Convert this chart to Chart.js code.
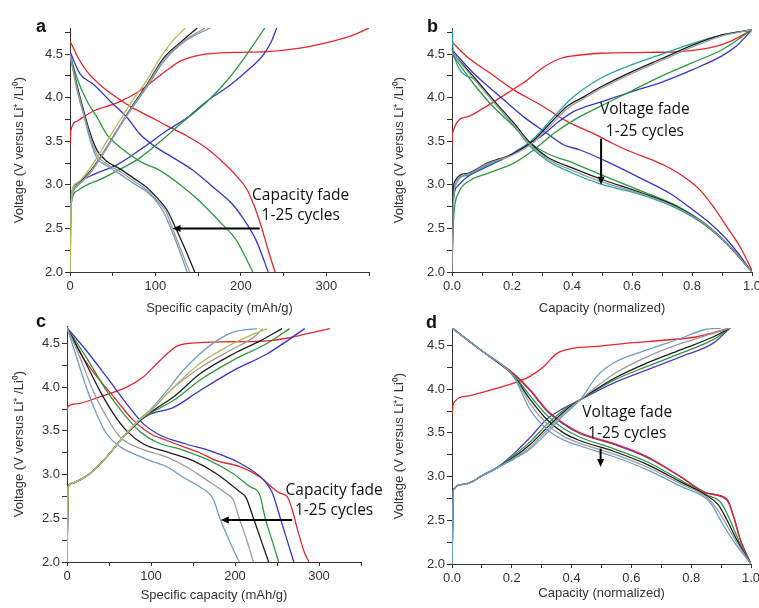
<!DOCTYPE html>
<html lang="en">
<head>
<meta charset="UTF-8">
<title>Voltage fade / capacity fade</title>
<style>
  body { margin: 0; background: #fff; }
  #wrap { position: relative; width: 759px; height: 608px; overflow: hidden; }
  canvas { position: absolute; }
</style>
</head>
<body>
<div id="wrap">
  <canvas id="chartA" width="379" height="318" style="left:0;top:0"></canvas>
  <canvas id="chartB" width="379" height="318" style="left:380px;top:0"></canvas>
  <canvas id="chartC" width="388" height="308" style="left:0;top:300px"></canvas>
  <canvas id="chartD" width="379" height="308" style="left:380px;top:300px"></canvas>
</div>
<script src="https://cdn.jsdelivr.net/npm/chart.js"></script>
<script>
// ---- panel a : specific capacity (mAh/g) vs voltage ----
const aRedChg = [[0,3.45],[1,3.62],[8,3.73],[28,3.85],[55,3.94],[82,4.08],[102,4.23],[117,4.34],[129,4.42],[152,4.49],[191,4.52],[230,4.53],[269,4.57],[308,4.65],[332,4.72],[350,4.8]];
const aRedDis = [[0,4.65],[10,4.45],[20,4.3],[35,4.15],[55,4.0],[74,3.88],[94,3.78],[113,3.68],[137,3.56],[160,3.42],[180,3.25],[195,3.1],[207,2.95],[216,2.75],[224,2.52],[232,2.25],[240,2.0]];
const aBlueChg = [[0,2.0],[1,2.75],[4,2.97],[12,3.04],[28,3.12],[55,3.23],[86,3.43],[113,3.62],[137,3.77],[160,3.96],[188,4.15],[211,4.34],[227,4.5],[236,4.65],[242,4.8]];
const aBlueDis = [[0,4.53],[12,4.27],[28,4.15],[47,3.96],[67,3.77],[82,3.58],[98,3.45],[121,3.31],[145,3.16],[168,2.97],[190,2.78],[205,2.58],[218,2.36],[232,2.0]];
const aGreenChg = [[0,2.0],[0.5,2.5],[2,2.81],[8,2.93],[20,3.0],[35,3.06],[55,3.16],[82,3.31],[106,3.5],[133,3.73],[160,3.95],[184,4.2],[205,4.47],[228,4.8]];
const aGreenDis = [[0,4.5],[8,4.23],[20,3.96],[32,3.77],[43,3.58],[59,3.43],[82,3.27],[106,3.16],[129,3.0],[152,2.81],[175,2.58],[195,2.36],[214,2.0]];
const aBlackChg = [[0,2.0],[0.5,2.6],[2,2.89],[8,3.0],[24,3.16],[43,3.43],[59,3.69],[74,3.92],[90,4.15],[110,4.46],[130,4.64],[149,4.8]];
const aBlackDis = [[0,4.5],[8,4.15],[16,3.85],[24,3.58],[32,3.39],[43,3.27],[59,3.18],[74,3.08],[90,2.97],[102,2.85],[113,2.72],[123,2.52],[134,2.28],[146,2.0]];
const aGrayChg = [[0,2.0],[2,2.87],[8,3.0],[24,3.15],[43,3.43],[59,3.69],[74,3.91],[90,4.14],[110,4.44],[132,4.64],[158,4.8]];
const aGrayDis = [[0,4.5],[8,4.12],[16,3.82],[24,3.54],[32,3.34],[43,3.24],[59,3.15],[74,3.05],[90,2.94],[102,2.82],[112,2.7],[120,2.5],[130,2.25],[140,2.0]];
const aSteelChg = [[0,2.0],[0.5,2.55],[2,2.85],[8,2.98],[24,3.14],[43,3.42],[59,3.68],[74,3.9],[90,4.12],[110,4.42],[135,4.65],[164,4.8]];
const aSteelDis = [[0,4.5],[8,4.1],[16,3.8],[24,3.5],[32,3.3],[43,3.22],[59,3.12],[74,3.02],[90,2.92],[102,2.8],[110,2.68],[118,2.5],[128,2.25],[137,2.0]];
const aOliveChg = [[0,2.0],[2,2.9],[8,3.02],[24,3.2],[43,3.5],[59,3.75],[74,3.98],[90,4.2],[105,4.45],[120,4.65],[135,4.8]];

// ---- panel b : normalized capacity ----
const bRedChg = [[0,3.44],[0.002,3.6],[0.05,3.78],[0.105,3.88],[0.183,4.05],[0.25,4.2],[0.305,4.35],[0.361,4.45],[0.428,4.49],[0.5,4.51],[0.65,4.52],[0.76,4.53],[0.87,4.58],[0.93,4.65],[1.0,4.78]];
const bRedDis = [[0,4.64],[0.05,4.47],[0.128,4.28],[0.206,4.09],[0.294,3.92],[0.377,3.74],[0.47,3.59],[0.527,3.49],[0.582,3.4],[0.671,3.28],[0.727,3.19],[0.782,3.07],[0.827,2.94],[0.871,2.75],[0.916,2.52],[0.96,2.29],[1.0,2.02]];
const bBlueChg = [[0,2.0],[0.003,2.75],[0.017,2.98],[0.05,3.09],[0.105,3.19],[0.183,3.32],[0.239,3.44],[0.294,3.55],[0.35,3.71],[0.405,3.84],[0.494,3.95],[0.6,4.07],[0.7,4.18],[0.8,4.32],[0.9,4.48],[0.95,4.6],[1.0,4.78]];
const bBlueDis = [[0,4.55],[0.072,4.28],[0.161,4.01],[0.239,3.78],[0.317,3.59],[0.372,3.46],[0.427,3.4],[0.527,3.25],[0.638,3.06],[0.727,2.9],[0.804,2.71],[0.86,2.56],[0.927,2.33],[1.0,2.0]];
const bGreenChg = [[0,2.0],[0.005,2.6],[0.021,2.9],[0.06,3.05],[0.117,3.13],[0.206,3.25],[0.272,3.4],[0.339,3.59],[0.405,3.74],[0.494,3.9],[0.6,4.08],[0.7,4.25],[0.8,4.4],[0.9,4.55],[1.0,4.78]];
const bGreenDis = [[0,4.5],[0.072,4.16],[0.128,3.93],[0.206,3.67],[0.261,3.48],[0.317,3.36],[0.405,3.25],[0.494,3.12],[0.638,2.92],[0.749,2.76],[0.838,2.57],[0.916,2.33],[1.0,2.0]];
const bBlackChg = [[0,2.0],[0.003,2.7],[0.007,3.02],[0.05,3.13],[0.117,3.25],[0.206,3.36],[0.272,3.51],[0.328,3.71],[0.383,3.9],[0.439,4.01],[0.494,4.12],[0.6,4.3],[0.7,4.45],[0.8,4.6],[0.9,4.72],[1.0,4.78]];
const bBlackDis = [[0,4.52],[0.072,4.24],[0.139,3.97],[0.206,3.71],[0.261,3.48],[0.317,3.32],[0.405,3.19],[0.494,3.07],[0.638,2.9],[0.749,2.75],[0.838,2.56],[0.916,2.33],[1.0,2.0]];
const bGrayChg = [[0,2.0],[0.004,2.7],[0.01,3.0],[0.05,3.12],[0.117,3.24],[0.206,3.35],[0.272,3.49],[0.328,3.68],[0.383,3.87],[0.439,3.99],[0.494,4.1],[0.6,4.28],[0.7,4.43],[0.8,4.58],[0.9,4.71],[1.0,4.78]];
const bGrayDis = [[0,4.52],[0.072,4.22],[0.139,3.95],[0.206,3.69],[0.261,3.46],[0.317,3.3],[0.405,3.16],[0.494,3.04],[0.638,2.89],[0.749,2.74],[0.838,2.56],[0.916,2.33],[1.0,2.0]];
const bTealChg = [[0,2.0],[0.003,2.65],[0.01,2.98],[0.05,3.11],[0.117,3.23],[0.206,3.36],[0.272,3.53],[0.339,3.78],[0.405,4.01],[0.494,4.22],[0.6,4.38],[0.7,4.5],[0.8,4.62],[0.9,4.72],[1.0,4.78]];
const bTealDis = [[0,4.78],[0.005,4.5],[0.072,4.22],[0.139,3.95],[0.206,3.68],[0.261,3.44],[0.317,3.28],[0.405,3.13],[0.494,3.01],[0.638,2.88],[0.749,2.73],[0.838,2.55],[0.916,2.32],[1.0,2.0]];

// ---- panel c : specific capacity, second material ----
const cRedChg = [[0,3.7],[1,3.78],[11.5,3.81],[39,3.89],[71,4.0],[91,4.12],[107,4.27],[119,4.38],[131,4.47],[158,4.51],[198,4.52],[238,4.53],[261,4.56],[285,4.61],[313,4.67]];
const cRedDis = [[0,4.68],[19,4.34],[39,4.08],[59,3.85],[79,3.62],[99,3.47],[119,3.39],[138,3.32],[158,3.25],[178,3.16],[206,3.09],[230,2.97],[253,2.79],[262,2.75],[268,2.6],[275,2.35],[283,2.1],[288,2.0]];
const cBlueChg = [[0,2.0],[1.5,2.86],[5.6,2.9],[15.5,2.94],[27,3.01],[47,3.2],[67,3.43],[87,3.62],[99,3.69],[127,3.77],[158,3.96],[198,4.19],[238,4.38],[265,4.55],[283,4.67]];
const cBlueDis = [[0,4.68],[23,4.42],[47,4.12],[71,3.81],[91,3.58],[111,3.45],[142,3.35],[174,3.26],[206,3.13],[234,2.94],[244,2.8],[254,2.5],[262,2.25],[270,2.0]];
const cGreenChg = [[0,2.0],[1.5,2.86],[5.6,2.9],[15.5,2.94],[27,3.01],[47,3.2],[67,3.43],[87,3.62],[99,3.7],[127,3.85],[158,4.08],[198,4.31],[238,4.5],[265,4.67]];
const cGreenDis = [[0,4.68],[23,4.34],[47,3.96],[67,3.7],[87,3.49],[107,3.37],[138,3.28],[170,3.16],[198,3.01],[218,2.86],[229,2.78],[236,2.5],[244,2.25],[252,2.0]];
const cBlackChg = [[0,2.0],[1.5,2.86],[5.6,2.9],[15.5,2.94],[27,3.01],[47,3.2],[67,3.43],[87,3.62],[99,3.71],[127,3.89],[158,4.15],[198,4.38],[230,4.53],[256,4.67]];
const cBlackDis = [[0,4.68],[19,4.34],[39,3.96],[55,3.7],[71,3.5],[91,3.35],[119,3.26],[150,3.16],[178,3.01],[206,2.8],[213,2.74],[222,2.5],[231,2.25],[240,2.0]];
const cGrayChg = [[0,2.0],[1.5,2.86],[5.6,2.9],[15.5,2.94],[27,3.01],[47,3.2],[67,3.43],[87,3.63],[99,3.72],[124,3.97],[158,4.22],[194,4.42],[222,4.57],[233,4.67]];
const cGrayDis = [[0,4.68],[15.5,4.34],[31,3.96],[47,3.66],[63,3.43],[87,3.3],[119,3.2],[142,3.09],[166,2.94],[190,2.78],[198,2.71],[205,2.5],[214,2.25],[222,2.0]];
const cOliveChg = [[0,2.0],[1.5,2.86],[5.6,2.9],[15.5,2.94],[27,3.01],[47,3.2],[67,3.43],[87,3.63],[99,3.73],[127,4.0],[158,4.27],[190,4.46],[218,4.59],[238,4.67]];
const cSteelChg = [[0,2.0],[1.5,2.86],[5.6,2.9],[15.5,2.94],[27,3.01],[47,3.2],[67,3.43],[87,3.64],[99,3.74],[119,3.96],[138,4.19],[158,4.38],[178,4.53],[198,4.63],[226,4.67]];
const cSteelDis = [[0,4.68],[11.5,4.34],[23,4.0],[35,3.7],[47,3.47],[63,3.32],[79,3.24],[99,3.16],[119,3.09],[138,2.97],[158,2.86],[174,2.72],[182,2.5],[193,2.25],[205,2.0]];

// ---- panel d : normalized capacity, second material ----
const dRedChg = [[0,3.71],[0.005,3.84],[0.05,3.92],[0.128,3.99],[0.206,4.07],[0.262,4.15],[0.307,4.26],[0.351,4.41],[0.407,4.47],[0.485,4.49],[0.596,4.53],[0.708,4.56],[0.819,4.6],[0.909,4.68],[0.93,4.7]];
const dRedDis = [[0,4.7],[0.095,4.45],[0.206,4.18],[0.262,3.99],[0.318,3.76],[0.373,3.61],[0.429,3.5],[0.54,3.38],[0.652,3.23],[0.764,3.0],[0.853,2.81],[0.92,2.74],[0.942,2.54],[0.964,2.28],[1.0,2.0]];
const dPurpleChg = [[0,2.0],[0.005,2.85],[0.039,2.91],[0.072,2.95],[0.095,3.0],[0.15,3.1],[0.206,3.26],[0.262,3.45],[0.318,3.66],[0.373,3.78],[0.429,3.88],[0.54,4.07],[0.652,4.22],[0.764,4.37],[0.875,4.53],[0.93,4.7]];
const dPurpleDis = [[0,4.7],[0.095,4.45],[0.206,4.17],[0.262,3.98],[0.318,3.75],[0.373,3.6],[0.429,3.49],[0.54,3.37],[0.652,3.22],[0.764,3.0],[0.853,2.81],[0.92,2.73],[0.942,2.54],[0.964,2.28],[1.0,2.0]];
const dGreenChg = [[0,2.0],[0.005,2.85],[0.039,2.91],[0.072,2.95],[0.095,3.0],[0.15,3.1],[0.206,3.24],[0.262,3.4],[0.318,3.6],[0.373,3.76],[0.429,3.88],[0.54,4.1],[0.652,4.26],[0.764,4.41],[0.875,4.57],[0.93,4.7]];
const dGreenDis = [[0,4.7],[0.095,4.45],[0.206,4.16],[0.262,3.92],[0.318,3.7],[0.373,3.55],[0.429,3.45],[0.54,3.32],[0.652,3.17],[0.764,2.96],[0.853,2.79],[0.9,2.7],[0.93,2.5],[0.96,2.26],[1.0,2.0]];
const dBlackChg = [[0,2.0],[0.005,2.85],[0.039,2.91],[0.072,2.95],[0.095,3.0],[0.15,3.1],[0.206,3.22],[0.262,3.37],[0.318,3.56],[0.373,3.74],[0.429,3.88],[0.54,4.12],[0.652,4.3],[0.764,4.45],[0.875,4.6],[0.93,4.7]];
const dBlackDis = [[0,4.7],[0.095,4.45],[0.206,4.15],[0.262,3.88],[0.318,3.65],[0.373,3.5],[0.429,3.41],[0.54,3.29],[0.652,3.14],[0.764,2.94],[0.853,2.78],[0.89,2.68],[0.92,2.5],[0.955,2.26],[1.0,2.0]];
const dGrayChg = [[0,2.0],[0.005,2.85],[0.039,2.91],[0.072,2.95],[0.095,3.0],[0.15,3.1],[0.206,3.21],[0.262,3.34],[0.318,3.53],[0.373,3.72],[0.429,3.88],[0.54,4.17],[0.652,4.37],[0.764,4.52],[0.875,4.64],[0.93,4.7]];
const dGrayDis = [[0,4.7],[0.095,4.45],[0.206,4.15],[0.262,3.83],[0.318,3.6],[0.373,3.46],[0.429,3.38],[0.54,3.26],[0.652,3.11],[0.764,2.92],[0.853,2.76],[0.88,2.66],[0.91,2.5],[0.95,2.26],[1.0,2.0]];
const dSteelChg = [[0,2.0],[0.005,2.85],[0.039,2.91],[0.072,2.95],[0.095,3.0],[0.15,3.1],[0.206,3.2],[0.262,3.32],[0.318,3.5],[0.373,3.7],[0.429,3.88],[0.485,4.15],[0.54,4.3],[0.652,4.45],[0.764,4.58],[0.842,4.68],[0.9,4.7]];
const dSteelDis = [[0,4.7],[0.095,4.45],[0.206,4.14],[0.262,3.76],[0.318,3.54],[0.373,3.42],[0.429,3.35],[0.54,3.23],[0.652,3.08],[0.764,2.89],[0.853,2.74],[0.876,2.64],[0.898,2.5],[0.942,2.26],[1.0,2.0]];

// colours of the cycles
const RED = '#e3262b', BLUE = '#3535c8', PURPLE = '#5b36c2', GREEN = '#2b9a3d', BLACK = '#1c1c1c',
      GRAY = '#9b9b9b', STEEL = '#6d9cc4', OLIVE = '#b7b95c', TEAL = '#22a3a2';

const TICK_FONT = { family: '"Liberation Sans", Arial, sans-serif', size: 13 };
const VOLT_TITLE = 'Voltage (V versus Li\u207A /Li\u2070)';

// draws panel letter, annotation text and arrow (positions in data units)
const notesPlugin = {
    id: 'notes',
    afterDatasetsDraw(chart, args, opts) {
        const { ctx } = chart;
        const xs = chart.scales.x, ys = chart.scales.y;
        ctx.save();
        ctx.fillStyle = '#111';
        ctx.font = 'bold 18px "Liberation Sans", Arial, sans-serif';
        ctx.textAlign = 'left';
        ctx.textBaseline = 'alphabetic';
        ctx.fillText(opts.letter, opts.letterPos[0], opts.letterPos[1]);

        ctx.font = '15.5px "Open Sans", sans-serif';
        ctx.textAlign = 'center';
        ctx.textBaseline = 'middle';
        opts.lines.forEach(l => {
            ctx.fillText(l.text, xs.getPixelForValue(l.x), ys.getPixelForValue(l.y));
        });

        // arrow
        const [x1, y1, x2, y2] = opts.arrow;
        const px1 = xs.getPixelForValue(x1), py1 = ys.getPixelForValue(y1);
        const px2 = xs.getPixelForValue(x2), py2 = ys.getPixelForValue(y2);
        const ang = Math.atan2(py2 - py1, px2 - px1);
        const head = 8;
        ctx.strokeStyle = '#000';
        ctx.lineWidth = 2;
        ctx.beginPath();
        ctx.moveTo(px1, py1);
        ctx.lineTo(px2 - Math.cos(ang) * head * 0.8, py2 - Math.sin(ang) * head * 0.8);
        ctx.stroke();
        ctx.fillStyle = '#000';
        ctx.beginPath();
        ctx.moveTo(px2, py2);
        ctx.lineTo(px2 - Math.cos(ang) * head - Math.sin(ang) * 3.5, py2 - Math.sin(ang) * head + Math.cos(ang) * 3.5);
        ctx.lineTo(px2 - Math.cos(ang) * head + Math.sin(ang) * 3.5, py2 - Math.sin(ang) * head - Math.cos(ang) * 3.5);
        ctx.closePath();
        ctx.fill();
        ctx.restore();
    }
};

function toXY(arr) {
    return arr.map(p => ({ x: p[0], y: p[1] }));
}

function curve(arr, color) {
    return {
        data: toXY(arr),
        borderColor: color,
        borderWidth: 1.3,
        pointRadius: 0,
        showLine: true,
        fill: false,
        cubicInterpolationMode: 'monotone'
    };
}

function makePanel(id, cfg) {
    const canvas = document.getElementById(id);
    const W = canvas.width, H = canvas.height;
    return new Chart(canvas.getContext('2d'), {
        type: 'scatter',
        data: { datasets: cfg.curves.map(c => curve(c[0], c[1])) },
        options: {
            responsive: false,
            animation: false,
            layout: { padding: { top: cfg.area.top, right: W - cfg.area.right, left: 0, bottom: 0 } },
            plugins: {
                legend: { display: false },
                tooltip: { enabled: false },
                notes: cfg.notes
            },
            scales: {
                x: {
                    type: 'linear',
                    min: cfg.xMin, max: cfg.xMax,
                    border: { color: '#333', width: 1 },
                    grid: { drawOnChartArea: false, tickLength: 4, color: '#333' },
                    ticks: {
                        stepSize: cfg.xStep,
                        includeBounds: false,
                        color: '#333',
                        font: TICK_FONT,
                        padding: 3,
                        maxRotation: 0,
                        autoSkip: false,
                        callback: cfg.xLabel
                    },
                    title: { display: true, text: cfg.xTitle, color: '#333', font: TICK_FONT, padding: { top: 0, bottom: cfg.xTitlePad } },
                    afterFit: s => { s.height = H - cfg.area.bottom; s.paddingLeft = 0; s.paddingRight = 0; }
                },
                y: {
                    type: 'linear',
                    min: 2.0, max: cfg.yMax,
                    border: { color: '#333', width: 1 },
                    grid: { drawOnChartArea: false, tickLength: 5, color: '#333' },
                    ticks: {
                        stepSize: 0.25,
                        includeBounds: false,
                        color: '#333',
                        font: TICK_FONT,
                        padding: 2,
                        autoSkip: false,
                        callback: v => (Math.abs(v * 2 - Math.round(v * 2)) < 1e-6 ? v.toFixed(1) : '')
                    },
                    title: { display: true, text: cfg.yTitle, color: '#333', font: TICK_FONT, padding: { top: 12, bottom: 0 } },
                    afterFit: s => { s.width = cfg.area.left; s.paddingTop = 0; s.paddingBottom = 0; }
                }
            }
        },
        plugins: [notesPlugin]
    });
}

const capLabel = v => (v % 100 === 0 ? String(v) : '');
const normLabel = v => (Math.abs(v * 5 - Math.round(v * 5)) < 1e-6 ? v.toFixed(1) : '');

makePanel('chartA', {
    area: { left: 70, right: 369, top: 28, bottom: 272 },
    xMin: 0, xMax: 350, xStep: 50, xLabel: capLabel, yMax: 4.8,
    xTitle: 'Specific capacity (mAh/g)', xTitlePad: 2, yTitle: VOLT_TITLE,
    curves: [[aOliveChg, OLIVE], [aGrayChg, GRAY], [aGrayDis, GRAY], [aSteelChg, STEEL], [aSteelDis, STEEL],
             [aBlackChg, BLACK], [aBlackDis, BLACK], [aGreenChg, GREEN], [aGreenDis, GREEN],
             [aBlueChg, BLUE], [aBlueDis, BLUE], [aRedChg, RED], [aRedDis, RED]],
    notes: {
        letter: 'a', letterPos: [36, 32],
        lines: [{ text: 'Capacity fade', x: 270, y: 2.88 }, { text: '1-25 cycles', x: 270, y: 2.65 }],
        arrow: [222, 2.5, 120, 2.5]
    }
});

makePanel('chartB', {
    area: { left: 72, right: 372, top: 28, bottom: 272 },
    xMin: 0, xMax: 1, xStep: 0.1, xLabel: normLabel, yMax: 4.8,
    xTitle: 'Capacity (normalized)', xTitlePad: 2, yTitle: VOLT_TITLE,
    curves: [[bGrayChg, GRAY], [bGrayDis, GRAY], [bBlackChg, BLACK], [bBlackDis, BLACK],
             [bGreenChg, GREEN], [bGreenDis, GREEN], [bTealChg, TEAL], [bTealDis, TEAL],
             [bBlueChg, BLUE], [bBlueDis, BLUE], [bRedChg, RED], [bRedDis, RED]],
    notes: {
        letter: 'b', letterPos: [47, 32],
        lines: [{ text: 'Voltage fade', x: 0.643, y: 3.86 }, { text: '1-25 cycles', x: 0.643, y: 3.61 }],
        arrow: [0.497, 3.53, 0.497, 3.0]
    }
});

makePanel('chartC', {
    area: { left: 67, right: 361, top: 26, bottom: 262 },
    xMin: 0, xMax: 350, xStep: 50, xLabel: capLabel, yMax: 4.7,
    xTitle: 'Specific capacity (mAh/g)', xTitlePad: 5, yTitle: VOLT_TITLE,
    curves: [[cOliveChg, OLIVE], [cGrayChg, GRAY], [cGrayDis, GRAY], [cSteelChg, STEEL], [cSteelDis, STEEL],
             [cBlackChg, BLACK], [cBlackDis, BLACK], [cGreenChg, GREEN], [cGreenDis, GREEN],
             [cBlueChg, BLUE], [cBlueDis, BLUE], [cRedChg, RED], [cRedDis, RED]],
    notes: {
        letter: 'c', letterPos: [36, 27],
        lines: [{ text: 'Capacity fade', x: 318, y: 2.82 }, { text: '1-25 cycles', x: 318, y: 2.59 }],
        arrow: [268, 2.48, 183, 2.48]
    }
});

makePanel('chartD', {
    area: { left: 72, right: 371, top: 28, bottom: 264 },
    xMin: 0, xMax: 1, xStep: 0.1, xLabel: normLabel, yMax: 4.7,
    xTitle: 'Capacity (normalized)', xTitlePad: 7, yTitle: 'Voltage (V versus Li\u207A/ Li\u2070)',
    curves: [[dSteelChg, STEEL], [dSteelDis, STEEL], [dGrayChg, GRAY], [dGrayDis, GRAY],
             [dBlackChg, BLACK], [dBlackDis, BLACK], [dGreenChg, GREEN], [dGreenDis, GREEN],
             [dRedChg, RED], [dRedDis, RED], [dPurpleChg, PURPLE], [dPurpleDis, PURPLE]],
    notes: {
        letter: 'd', letterPos: [46, 28],
        lines: [{ text: 'Voltage fade', x: 0.586, y: 3.73 }, { text: '1-25 cycles', x: 0.586, y: 3.49 }],
        arrow: [0.497, 3.32, 0.497, 3.11]
    }
});
</script>
</body>
</html>
